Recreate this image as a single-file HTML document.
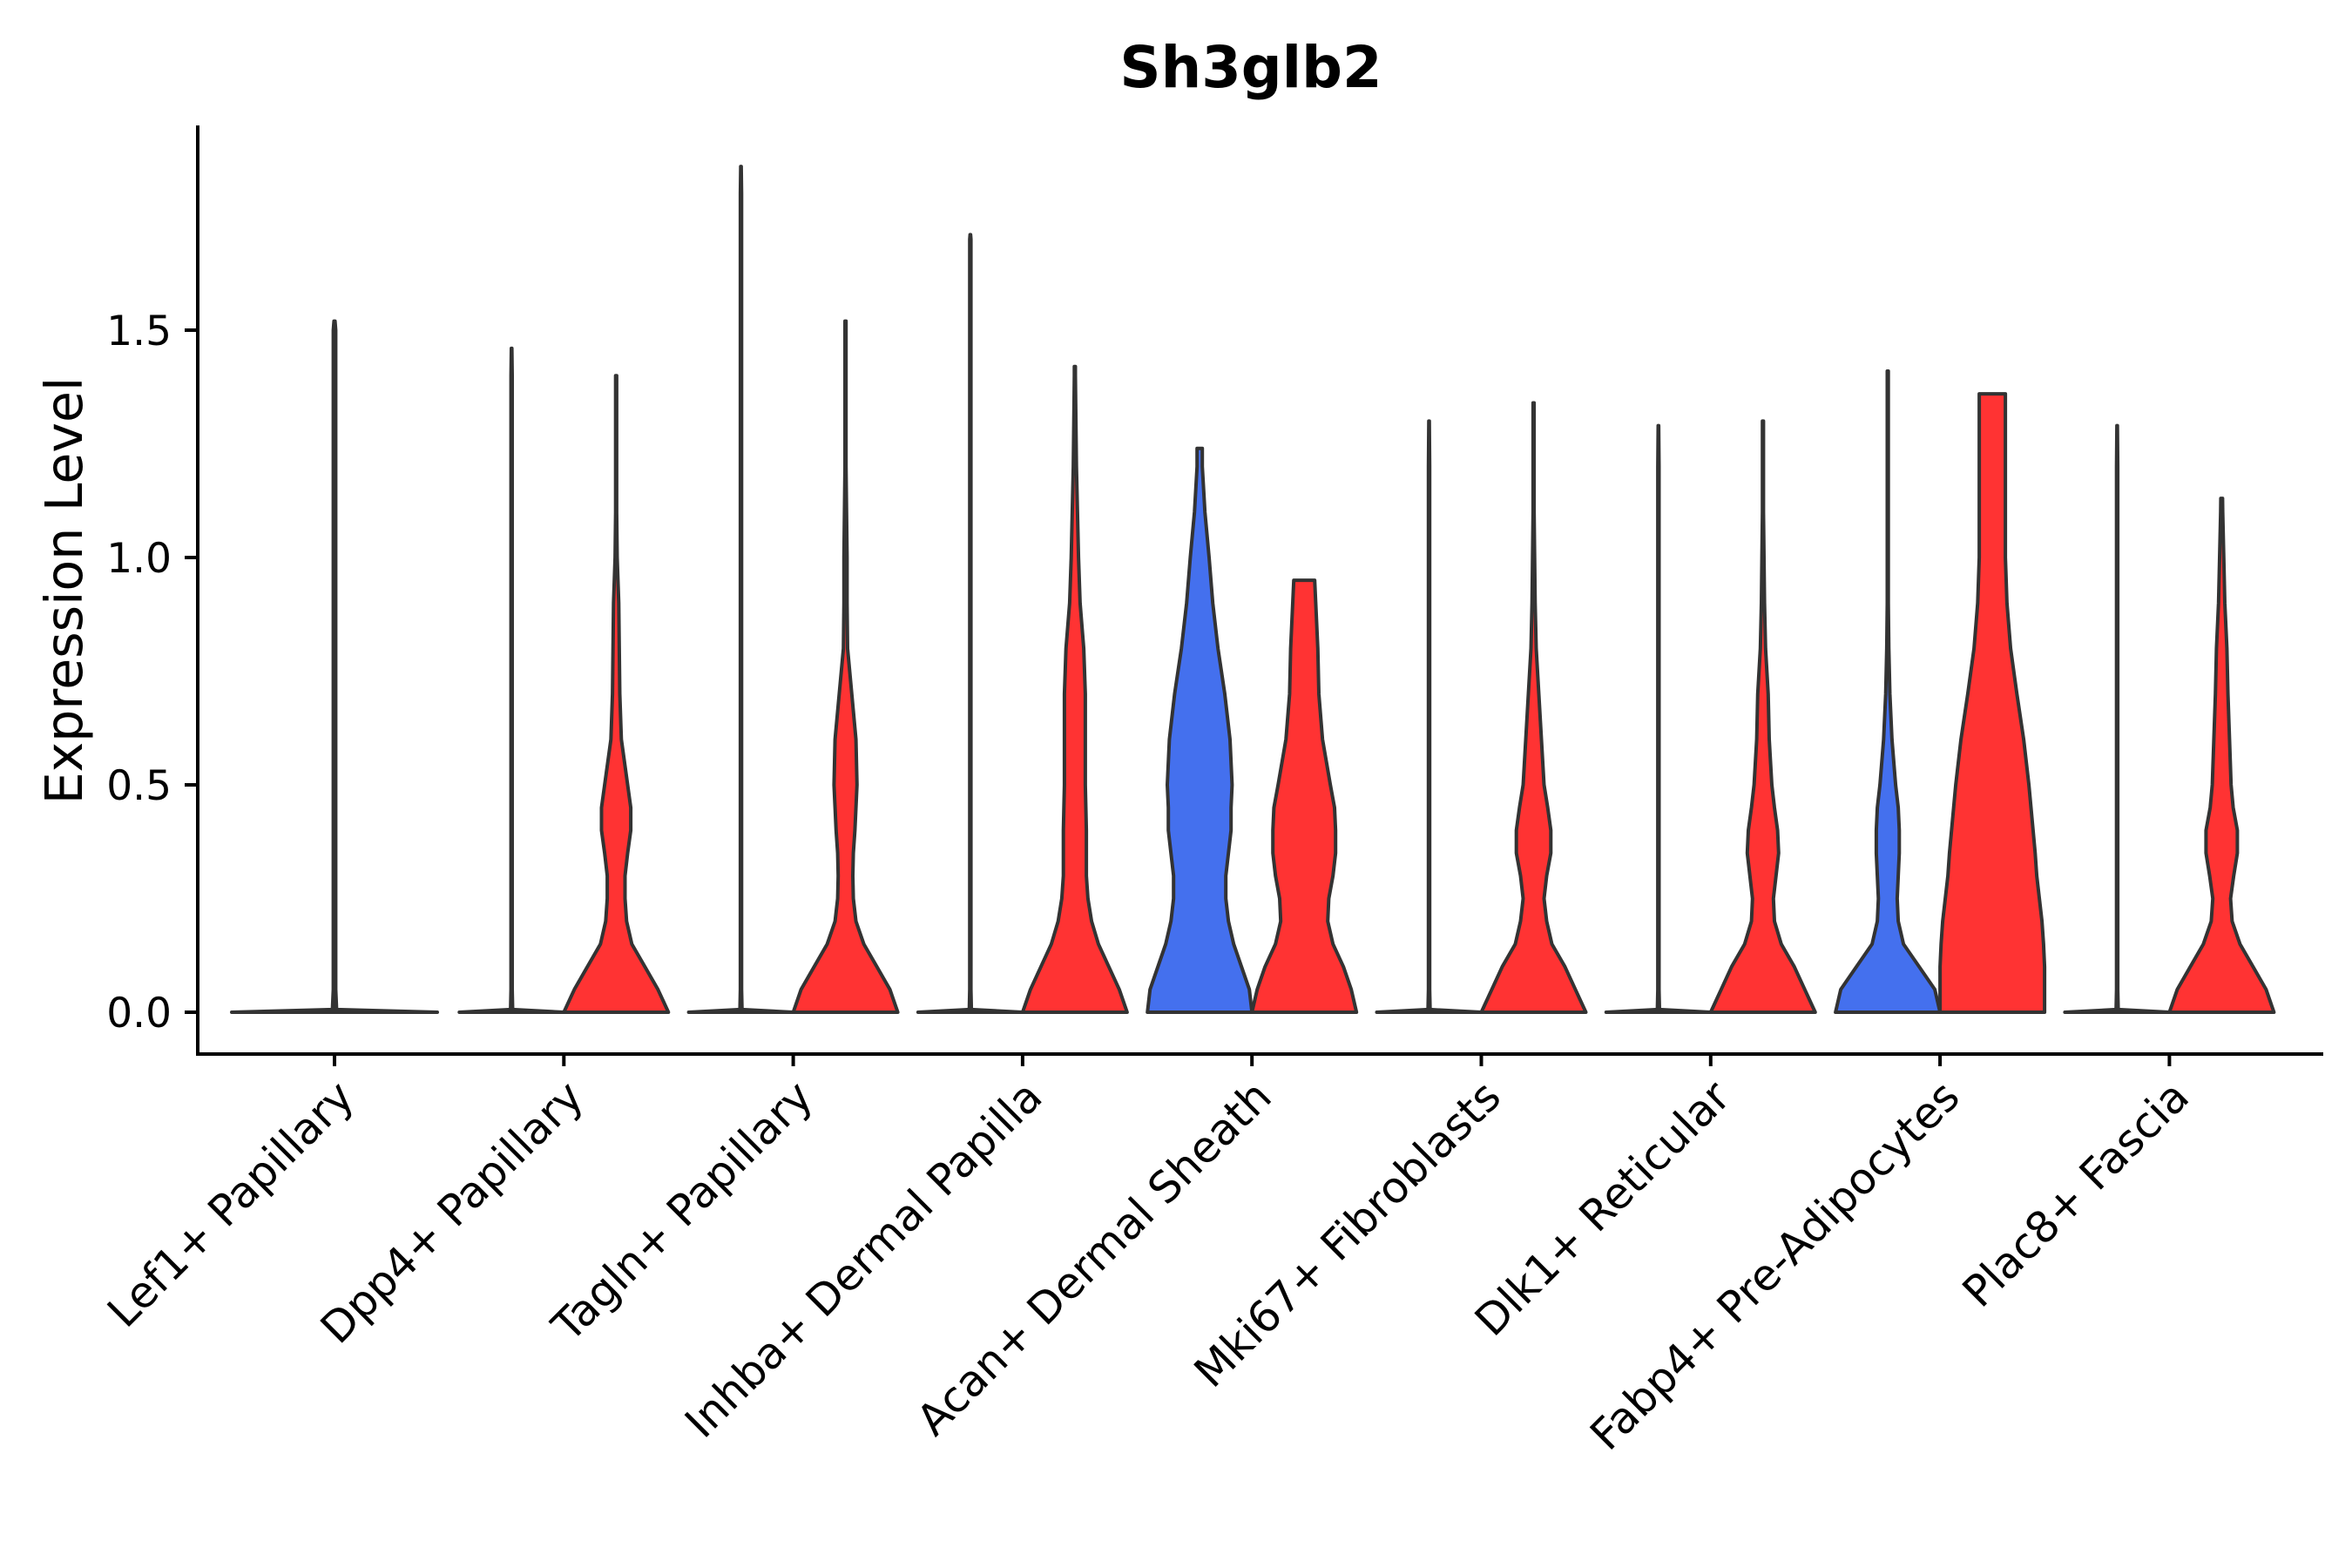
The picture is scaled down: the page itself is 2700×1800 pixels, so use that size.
<!DOCTYPE html>
<html><head><meta charset="utf-8"><style>
html,body{margin:0;padding:0;background:#fff;}
svg{display:block;font-family:"DejaVu Sans","Liberation Sans",sans-serif;}
</style></head><body>
<svg id="chart" width="2700" height="1800" viewBox="0 0 2700 1800">
<rect width="2700" height="1800" fill="#fff"/>
<text x="1436" y="100" text-anchor="middle" font-size="65.5" font-weight="bold" fill="#000">Sh3glb2</text>
<text transform="translate(94,678) rotate(-90)" text-anchor="middle" font-size="58.5" fill="#000">Expression Level</text>
<g id="marks"></g>
<line x1="227" y1="144" x2="227" y2="1212" stroke="#000" stroke-width="4"/>
<line x1="225" y1="1210" x2="2667" y2="1210" stroke="#000" stroke-width="4"/>
<g id="axes"></g>
</svg>
<script>
const categories = ["Lef1+ Papillary","Dpp4+ Papillary","Tagln+ Papillary","Inhba+ Dermal Papilla","Acan+ Dermal Sheath","Mki67+ Fibroblasts","Dlk1+ Reticular","Fabp4+ Pre-Adipocytes","Plac8+ Fascia"];
const yTicks = [0, 0.5, 1.0, 1.5];
const yTickLabels = ["0.0","0.5","1.0","1.5"];
const grid = [0,0.05,0.1,0.15,0.2,0.25,0.3,0.35,0.4,0.45,0.5,0.6,0.7,0.8,0.9,1.0,1.1,1.2,1.3,1.4,1.5,1.6,1.7,1.8,1.9];
const maxA = [1.52,1.46,1.86,1.71,1.24,1.30,1.29,1.41,1.29];
const maxB = [null,1.40,1.52,1.42,0.95,1.34,1.30,1.36,1.13];
const colorA = [null,null,null,null,"#4470EE",null,null,"#4470EE",null];
const widthA = [
 [1,0.01],[1,0.01],[1,0.01],[1,0.01],
 [1,.95,.8,.65,.55,.5,.5,.55,.6,.6,.62,.58,.48,.35,.25,.18,.1,.05],
 [1,0.01],[1,0.01],
 [1,.9,.6,.3,.2,.18,.2,.22,.22,.2,.15,.08,.04,.02,.01,.01,.01,.01,.01,.01],
 [1,0.01]
];
const widthB = [
 null,
 [1,.8,.55,.3,.2,.17,.17,.22,.28,.28,.22,.1,.07,.06,.05,.02,.01,.01,.01,.01],
 [1,.85,.6,.35,.2,.15,.14,.15,.18,.2,.22,.2,.12,.04,.03,.03,.02,.01,.01,.01,.01],
 [1,.85,.65,.45,.32,.25,.22,.22,.22,.21,.2,.2,.2,.17,.1,.07,.05,.03,.02,.01],
 [1,.9,.75,.55,.45,.47,.55,.6,.6,.58,.5,.35,.28,.26,.22,.18],
 [1,.8,.6,.35,.25,.2,.25,.33,.33,.27,.2,.15,.1,.05,.03,.02,.01,.01,.01,.01],
 [1,.8,.6,.35,.22,.2,.25,.3,.28,.22,.17,.12,.1,.05,.03,.02,.01,.01,.01,.01],
 [1,1,1,.98,.95,.9,.85,.82,.78,.74,.7,.6,.47,.35,.28,.25,.25,.25,.25,.25],
 [1,.85,.6,.35,.2,.17,.23,.3,.3,.22,.18,.15,.12,.1,.06,.04,.02,.01]
];
const X0=384, DX=263.3, Y0=1162, YU=522;
function xs(i){return X0+i*DX;}
function ys(v){return Y0-v*YU;}
const NS="http://www.w3.org/2000/svg";
const marks=document.getElementById('marks');
const axes=document.getElementById('axes');
function widthAt(w,v){
  for(let k=0;k<grid.length-1;k++){
    if(v<=grid[k+1]){const a=w[Math.min(k,w.length-1)]||0.01,b=w[Math.min(k+1,w.length-1)]||0.01;const t=(v-grid[k])/(grid[k+1]-grid[k]);return a+(b-a)*t;}
  }
  return w[w.length-1];
}
function violin(cx,unit,max,w,fill,name,thin){
  const right=[],left=[];
  const levels=[];
  for(const g of grid){ if(g<max) levels.push(g); }
  levels.push(max);
  for(const v of levels){
    let hw;
    if(thin){hw = v===0?1:0.012;}
    else hw=widthAt(w,v);
    if(thin && v===max) hw=0.005;
    right.push([cx+hw*unit,ys(v)]);
    left.push([cx-hw*unit,ys(v)]);
  }
  if(thin){right.splice(1,0,[cx+0.02*unit,ys(0.006)]);left.splice(1,0,[cx-0.02*unit,ys(0.006)]);}
  const pts=right.concat(left.reverse());
  const p=document.createElementNS(NS,'path');
  p.setAttribute('d','M'+pts.map(q=>q[0].toFixed(1)+','+q[1].toFixed(1)).join('L')+'Z');
  p.setAttribute('fill',fill||'#FF3333');
  p.setAttribute('stroke','#333');
  p.setAttribute('stroke-width','4');
  p.setAttribute('stroke-linejoin','round');
  
  
  marks.appendChild(p);
}
categories.forEach((c,i)=>{
  const cx=xs(i);
  if(maxB[i]===null){
    violin(cx,118,maxA[i],widthA[i],"#333",'violin-'+i+'-a',true);
  } else {
    const thinA = colorA[i]===null;
    violin(cx-60,60,maxA[i],widthA[i],thinA?"#333":colorA[i],'violin-'+i+'-a',thinA);
    violin(cx+60,60,maxB[i],widthB[i],"#FF3333",'violin-'+i+'-b',false);
  }
  const t=document.createElementNS(NS,'line');
  t.setAttribute('x1',cx);t.setAttribute('x2',cx);t.setAttribute('y1',1210);t.setAttribute('y2',1224);
  t.setAttribute('stroke','#000');t.setAttribute('stroke-width','4');
  
  
  axes.appendChild(t);
  const tx=document.createElementNS(NS,'text');
  tx.setAttribute('transform','translate('+(cx+25)+',1262) rotate(-45)');
  tx.setAttribute('text-anchor','end');tx.setAttribute('font-size','49.5');tx.setAttribute('fill','#000');
  tx.textContent=c;
  
  
  axes.appendChild(tx);
});
yTicks.forEach((v,k)=>{
  const y=ys(v);
  const t=document.createElementNS(NS,'line');
  t.setAttribute('x1',212);t.setAttribute('x2',227);t.setAttribute('y1',y);t.setAttribute('y2',y);
  t.setAttribute('stroke','#000');t.setAttribute('stroke-width','4');
  
  
  axes.appendChild(t);
  const tx=document.createElementNS(NS,'text');
  tx.setAttribute('x',197);tx.setAttribute('y',y+17);
  tx.setAttribute('text-anchor','end');tx.setAttribute('font-size','47');tx.setAttribute('fill','#000');
  tx.textContent=yTickLabels[k];
  
  
  axes.appendChild(tx);
});
</script>
</body></html>
